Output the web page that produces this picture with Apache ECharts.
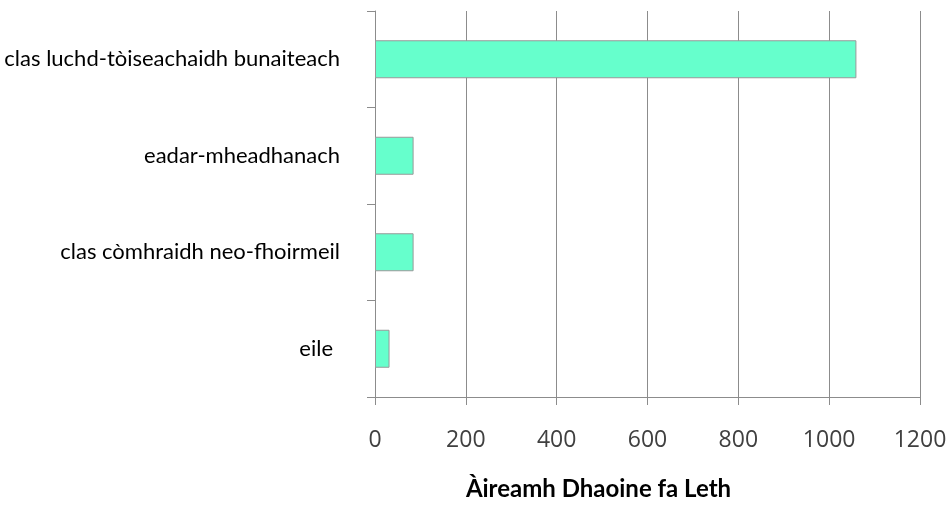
<!DOCTYPE html>
<html>
<head>
<meta charset="utf-8">
<script src="https://cdn.jsdelivr.net/npm/echarts@6/dist/echarts.min.js"></script>
<style>
  html, body { margin: 0; padding: 0; background: #fff; }
  #chart { width: 951px; height: 506px; }
</style>
</head>
<body>
<div id="chart"></div>
<script>
// categories, top to bottom
const categories = [
  'clas luchd-tòiseachaidh bunaiteach',
  'eadar-mheadhanach',
  'clas còmhraidh neo-fhoirmeil',
  'eile'
];
const values = [1060, 85, 85, 32];
const axisTitle = 'Àireamh Dhaoine fa Leth';

const chart = echarts.init(document.getElementById('chart'));

const option = {
  backgroundColor: '#fff',
  animation: false,
  grid: { left: 375, right: 31, top: 11, bottom: 104 },
  xAxis: {
    type: 'value',
    min: 0,
    max: 1200,
    interval: 200,
    name: axisTitle,
    nameLocation: 'middle',
    nameGap: 80,
    nameTextStyle: {
      fontFamily: 'Lato', fontWeight: 'bold', fontSize: 24, color: '#000',
      padding: [0, 98, 0, 0]
    },
    axisLine: { show: true, lineStyle: { color: '#8c8c8c', width: 1 } },
    axisTick: { show: true, length: 8, lineStyle: { color: '#8c8c8c' } },
    axisLabel: {
      margin: 32,
      fontFamily: 'Open Sans',
      fontSize: 23,
      color: '#404040',
      formatter: function (v) { return String(v); }
    },
    splitLine: { show: true, lineStyle: { color: '#8c8c8c', width: 1 } }
  },
  yAxis: {
    type: 'category',
    inverse: true,
    data: categories,
    axisLine: { show: true, lineStyle: { color: '#8c8c8c', width: 1 } },
    axisTick: { show: true, length: 8, lineStyle: { color: '#8c8c8c' } },
    axisLabel: {
      margin: 35,
      fontFamily: 'Lato',
      fontSize: 22,
      color: '#000',
      formatter: function (v) {
        return v === 'eile' ? '{pad|' + v + '}' : v;
      },
      rich: { pad: { fontFamily: 'Lato', fontSize: 22, color: '#000', padding: [0, 7, 0, 0] } }
    },
    splitLine: { show: false }
  },
  series: [{
    type: 'bar',
    data: values,
    barWidth: 38,
    itemStyle: { color: '#66ffcc', borderColor: '#999999', borderWidth: 1 }
  }]
};

chart.setOption(option);
</script>
</body>
</html>
